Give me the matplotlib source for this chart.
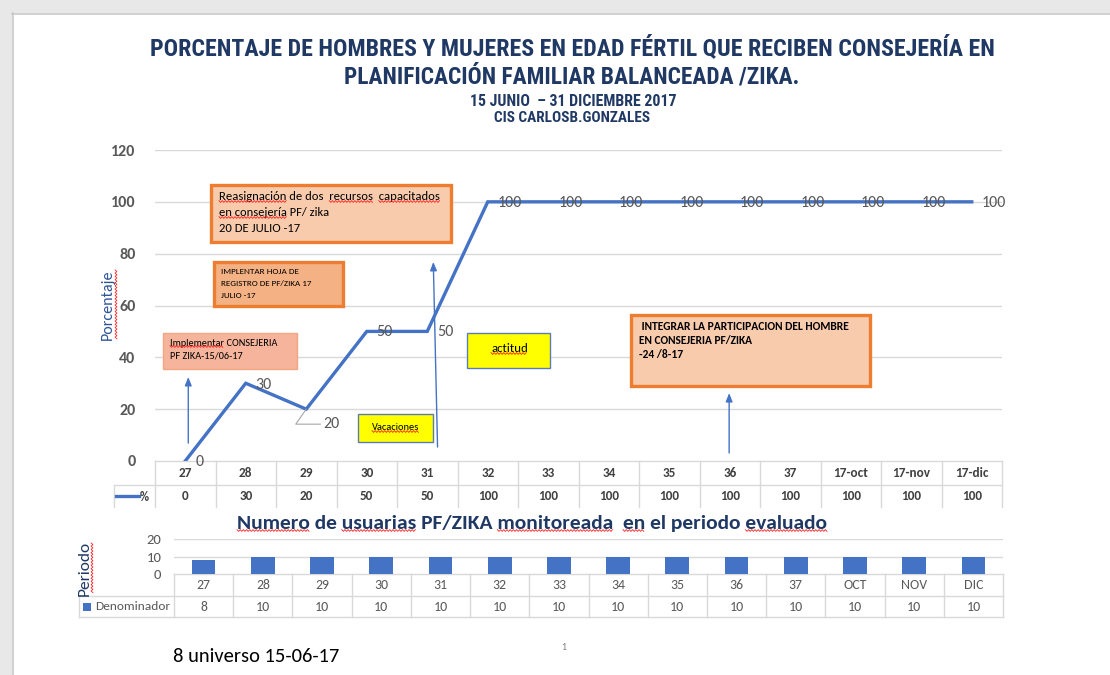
import matplotlib
matplotlib.use('Agg')
import matplotlib.pyplot as plt
from matplotlib import font_manager as fm
from matplotlib.patches import Rectangle
import matplotlib.transforms as mtransforms

# ---------------- data ----------------
categories_top = ['27', '28', '29', '30', '31', '32', '33', '34', '35', '36', '37',
                  '17-oct', '17-nov', '17-dic']
pct_values = [0, 30, 20, 50, 50, 100, 100, 100, 100, 100, 100, 100, 100, 100]
pct_yticks = [0, 20, 40, 60, 80, 100, 120]

categories_bottom = ['27', '28', '29', '30', '31', '32', '33', '34', '35', '36', '37',
                     'OCT', 'NOV', 'DIC']
denominador = [8, 10, 10, 10, 10, 10, 10, 10, 10, 10, 10, 10, 10, 10]
den_yticks = [0, 10, 20]

# ---------------- fonts ----------------
avail = {f.name for f in fm.fontManager.ttflist}
def pick(*names):
    for n in names:
        if n in avail:
            return n
    return 'DejaVu Sans'
BODY = pick('Carlito', 'Lato', 'Open Sans')
COND = pick('Liberation Sans Narrow', 'Roboto Condensed', 'Lato')
plt.rcParams['font.family'] = [BODY, 'DejaVu Sans']

BLUE = '#4472C4'
NAVY = '#1F3864'
GRAY_TXT = '#595959'
DARK_TXT = '#404040'
GRID = '#D9D9D9'
SPELL = '#FF2020'

W, H = 1110, 675
fig = plt.figure(figsize=(W / 100, H / 100), dpi=100)
fig.patch.set_facecolor('white')

def box(x0, y0, x1, y1):
    return [x0 / W, 1 - y1 / H, (x1 - x0) / W, (y1 - y0) / H]

def pixel_axes(z):
    a = fig.add_axes([0, 0, 1, 1], zorder=z)
    a.set_xlim(0, W)
    a.set_ylim(H, 0)
    a.axis('off')
    a.patch.set_alpha(0)
    return a

page = pixel_axes(0)      # background items and tables
over = pixel_axes(10)     # annotation boxes drawn above the charts

fits = []       # (text artist, target width px)
squiggles = []  # (axes, text artist, word)

# page frame (document view)
page.add_patch(Rectangle((0, 0), W, 13, facecolor='#E8E8E8', edgecolor='none'))
page.add_patch(Rectangle((0, 0), 12, H, facecolor='#E8E8E8', edgecolor='none'))
page.plot([12, W], [13.5, 13.5], color='#C8C8C8', lw=1.2)
page.plot([12.5, 12.5], [13, H], color='#C8C8C8', lw=1.2)

# ---------------- titles ----------------
t = page.text(572, 48, 'PORCENTAJE DE HOMBRES Y MUJERES EN EDAD FÉRTIL QUE RECIBEN CONSEJERÍA EN',
              ha='center', va='center', color=NAVY, fontsize=15, family=COND, fontweight='bold')
fits.append((t, 848))
t = page.text(572, 77, 'PLANIFICACIÓN FAMILIAR BALANCEADA /ZIKA.',
              ha='center', va='center', color=NAVY, fontsize=15, family=COND, fontweight='bold')
fits.append((t, 456))
t = page.text(573, 101, '15 JUNIO  – 31 DICIEMBRE 2017', ha='center', va='center',
              color=NAVY, fontsize=9, family=COND, fontweight='bold')
fits.append((t, 206))
t = page.text(572, 118, 'CIS CARLOSB.GONZALES', ha='center', va='center',
              color=NAVY, fontsize=9, family=COND, fontweight='bold')
fits.append((t, 156))

# ---------------- top chart ----------------
ax = fig.add_axes(box(155, 150, 1002, 461), zorder=2)
ax.patch.set_alpha(0)
n = len(categories_top)
xs = list(range(n))
ax.set_xlim(-0.5, n - 0.5)
ax.set_ylim(0, 120)
for s in ax.spines.values():
    s.set_visible(False)
ax.set_xticks([])
ax.set_yticks(pct_yticks)
ax.set_yticklabels([str(v) for v in pct_yticks], fontweight='bold', color=GRAY_TXT, fontsize=11.5)
ax.tick_params(axis='y', length=0, pad=14)
for v in pct_yticks[1:]:
    ax.axhline(v, color=GRID, lw=1.0, zorder=0)
ax.plot(xs, pct_values, color=BLUE, lw=2.4, zorder=3, solid_joinstyle='miter')

page.text(108, 305, 'Porcentaje', rotation=90, ha='center', va='center',
          color='#2F5597', fontsize=11.5)

for i, v in enumerate(pct_values):
    if i == 2:
        ax.annotate(str(v), (i, v), xytext=(17, -15), textcoords='offset pixels',
                    ha='left', va='center', fontsize=11.5, color=GRAY_TXT, zorder=4,
                    arrowprops=dict(arrowstyle='-', color='#A6A6A6', lw=0.8,
                                    connectionstyle='angle,angleA=0,angleB=55,rad=0',
                                    shrinkA=0, shrinkB=0))
    else:
        dy = -2 if i == 1 else -1
        ax.annotate(str(v), (i, v), xytext=(10, dy), textcoords='offset pixels',
                    ha='left', va='center', fontsize=11.5, color=GRAY_TXT, zorder=4)

# arrows
arrow_kw = dict(arrowstyle='-|>,head_length=0.5,head_width=0.2', color=BLUE, lw=1.0,
                shrinkA=0, shrinkB=0)
ax.annotate('', xy=(0.05, 32.4), xytext=(0.05, 6.9), arrowprops=arrow_kw, zorder=5)
ax.annotate('', xy=(4.10, 76.8), xytext=(4.17, 5.4), arrowprops=arrow_kw, zorder=5)
ax.annotate('', xy=(8.99, 26.2), xytext=(8.99, 3.1), arrowprops=arrow_kw, zorder=5)

# data table under top chart
tr_top = mtransforms.blended_transform_factory(ax.transData, page.transData)
page.plot([155, 1002], [461, 461], color=GRID, lw=1.0)
page.plot([114, 1002], [485, 485], color=GRID, lw=1.0)
page.plot([114, 114], [485, 507], color=GRID, lw=1.0)
for i in range(n + 1):
    page.plot([i - 0.5, i - 0.5], [461, 507], color=GRID, lw=1.0, transform=tr_top)
for i, (c, v) in enumerate(zip(categories_top, pct_values)):
    page.text(i, 473, c, ha='center', va='center', fontsize=9.5, fontweight='bold',
              color=DARK_TXT, transform=tr_top)
    page.text(i, 496, str(v), ha='center', va='center', fontsize=9.5, fontweight='bold',
              color=DARK_TXT, transform=tr_top)
page.plot([116, 139], [496, 496], color=BLUE, lw=2.4)
page.text(140, 497, '%', ha='left', va='center', fontsize=9, fontweight='bold', color=DARK_TXT)

# ---------------- annotation boxes ----------------
def rect(x0, y0, x1, y1, fc, ec, lw):
    over.add_patch(Rectangle((x0, y0), x1 - x0, y1 - y0, facecolor=fc, edgecolor=ec,
                             lw=lw, zorder=3))

def txt(x, y, s, w, fs=8, words=(), **kw):
    tt = over.text(x, y, s, ha='left', va='center', fontsize=fs, color='black', zorder=4, **kw)
    fits.append((tt, w))
    for wd in words:
        squiggles.append((over, tt, wd))
    return tt

rect(211, 185, 451, 242, '#F8CBAD', '#ED7D31', 2.4)
txt(219, 197, 'Reasignación de dos  recursos  capacitados', 219,
    words=('Reasignación', 'recursos', 'capacitados'))
txt(219, 213, 'en consejería PF/ zika', 110, words=('en consejería',))
txt(219, 228, '20 DE JULIO -17', 81)

rect(214, 262, 343, 306, '#F4B183', '#ED7D31', 2.4)
txt(221, 272, 'IMPLENTAR HOJA DE', 78, fs=6)
txt(221, 284, 'REGISTRO DE PF/ZIKA 17', 91, fs=6)
txt(221, 296, 'JULIO -17', 35, fs=6)

rect(163, 333, 297, 369, '#F5B49B', '#F4A582', 1.0)
txt(170, 343, 'Implementar CONSEJERIA', 109, fs=7, words=('Implementar',))
txt(170, 356, 'PF ZIKA-15/06-17', 73, fs=7)

rect(467, 333, 550, 368, '#FFFF00', '#5B7DB5', 1.0)
txt(491, 349, 'actitud', 37, fs=7.5, words=('actitud',))

rect(358, 414, 433, 442, '#FFFF00', '#5B7DB5', 1.0)
txt(372, 428, 'Vacaciones', 47, fs=6.5, words=('Vacaciones',))

rect(631, 315, 870, 386, '#F8CBAD', '#ED7D31', 2.4)
txt(639, 326, ' INTEGRAR LA PARTICIPACION DEL HOMBRE', 210, fs=7, fontweight='bold')
txt(639, 340, 'EN CONSEJERIA PF/ZIKA', 114, fs=7, fontweight='bold')
txt(639, 355, '-24 /8-17', 44, fs=7, fontweight='bold')

# ---------------- bottom chart ----------------
t = page.text(532, 523, 'Numero de usuarias PF/ZIKA monitoreada  en el periodo evaluado',
              ha='center', va='center', color=NAVY, fontsize=13, fontweight='bold')
fits.append((t, 589))
for wd in ('Numero', 'usuarias', 'monitoreada', ' en', 'evaluado'):
    squiggles.append((page, t, wd))

ax2 = fig.add_axes(box(174, 539, 1003, 574), zorder=2)
ax2.patch.set_alpha(0)
m = len(categories_bottom)
ax2.set_xlim(-0.5, m - 0.5)
ax2.set_ylim(0, 20)
for s in ax2.spines.values():
    s.set_visible(False)
ax2.set_xticks([])
ax2.set_yticks(den_yticks)
ax2.set_yticklabels([str(v) for v in den_yticks], color=GRAY_TXT, fontsize=10.5)
ax2.tick_params(axis='y', length=0, pad=9)
for v in den_yticks[1:]:
    ax2.axhline(v, color=GRID, lw=1.0, zorder=0)
ax2.bar(range(m), denominador, width=0.4, color=BLUE, zorder=3)

page.text(85, 568, 'Periodo', rotation=90, ha='center', va='center', color=NAVY, fontsize=12.5)

tr_bot = mtransforms.blended_transform_factory(ax2.transData, page.transData)
page.plot([174, 1003], [574, 574], color=GRID, lw=1.0)
page.plot([79, 1003], [596, 596], color=GRID, lw=1.0)
page.plot([79, 1003], [617, 617], color=GRID, lw=1.0)
page.plot([79, 79], [596, 617], color=GRID, lw=1.0)
for i in range(m + 1):
    page.plot([i - 0.5, i - 0.5], [574, 617], color=GRID, lw=1.0, transform=tr_bot)
for i, (c, v) in enumerate(zip(categories_bottom, denominador)):
    page.text(i, 585, c, ha='center', va='center', fontsize=10, color=GRAY_TXT, transform=tr_bot)
    page.text(i, 607, str(v), ha='center', va='center', fontsize=10, color=GRAY_TXT, transform=tr_bot)
page.add_patch(Rectangle((83, 603), 8, 8, facecolor=BLUE, edgecolor='none'))
t = page.text(95, 607, 'Denominador', ha='left', va='center', fontsize=9, color=GRAY_TXT)
fits.append((t, 75))

# ---------------- footer ----------------
t = page.text(173, 656, '8 universo 15-06-17', ha='left', va='center', fontsize=12, color='black')
fits.append((t, 166))
page.text(564, 648, '1', ha='center', va='center', fontsize=7, color='#7F7F7F')

# ---------------- fit text widths ----------------
fig.canvas.draw()
r = fig.canvas.get_renderer()
for tt, w in fits:
    bb = tt.get_window_extent(r)
    if bb.width > 0:
        tt.set_fontsize(tt.get_fontsize() * w / bb.width)

# ---------------- spell-check squiggles (as in the source document) ----------------
def zigzag(a, x0, x1, y, vertical=False):
    pts_a, pts_b = [], []
    k = 0
    p = x0
    while p <= x1:
        pts_a.append(p)
        pts_b.append(y + (0.9 if k % 2 else -0.9))
        p += 1.6
        k += 1
    if vertical:
        a.plot(pts_b, pts_a, color=SPELL, lw=0.6, zorder=6)
    else:
        a.plot(pts_a, pts_b, color=SPELL, lw=0.6, zorder=6)

fig.canvas.draw()
r = fig.canvas.get_renderer()
for a, tt, wd in squiggles:
    s = tt.get_text()
    idx = s.find(wd)
    if idx < 0:
        continue
    fp = tt.get_fontproperties()
    bb = tt.get_window_extent(r)
    w0 = r.get_text_width_height_descent(s[:idx], fp, ismath=False)[0] if idx > 0 else 0
    w1 = r.get_text_width_height_descent(s[:idx + len(wd)], fp, ismath=False)[0]
    if wd.startswith(' '):
        w0 += r.get_text_width_height_descent(' ', fp, ismath=False)[0]
    x0 = bb.x0 + w0
    x1 = bb.x0 + w1
    ybase = H - bb.y0 - 1   # just below text bottom, in page pixel coords
    zigzag(a, x0, x1, ybase)

zigzag(page, 270, 340, 116, vertical=True)   # 'Porcentaje'
zigzag(page, 543, 593, 92, vertical=True)    # 'Periodo'

fig.savefig('out.png', dpi=100, facecolor='white')
